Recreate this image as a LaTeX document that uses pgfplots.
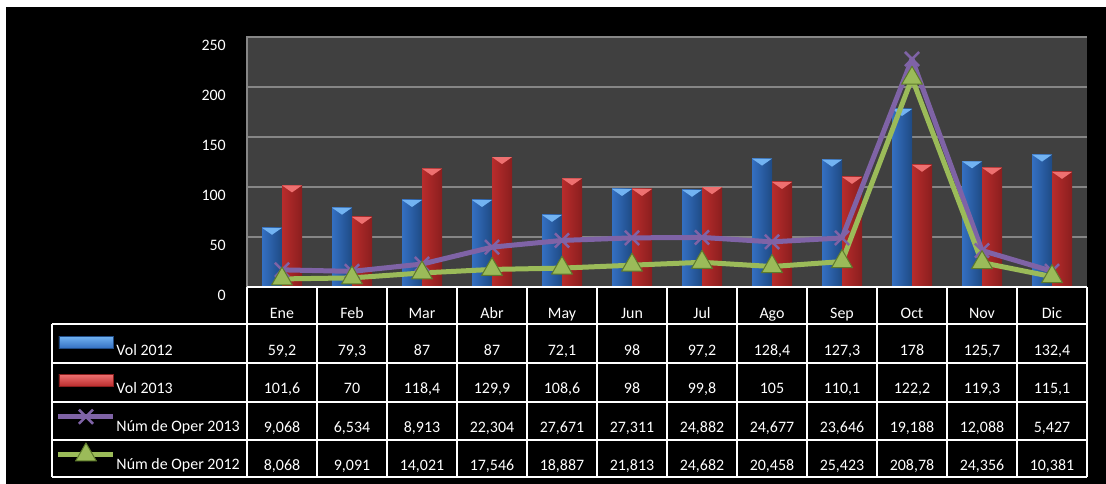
\documentclass[border=0pt]{standalone}
\usepackage{pgfplots}
\pgfplotsset{compat=1.18}
\usepackage{fontspec}
\setmainfont{Carlito}
\definecolor{plotbg}{HTML}{404040}
\definecolor{gridc}{HTML}{868686}
\definecolor{blueL}{HTML}{3470C2}
\definecolor{blueM}{HTML}{4A8EE0}
\definecolor{blueR}{HTML}{1F4A84}
\definecolor{blueT}{HTML}{72B3F2}
\definecolor{redL}{HTML}{B82C2C}
\definecolor{redM}{HTML}{DE4646}
\definecolor{redR}{HTML}{8A1E1E}
\definecolor{redT}{HTML}{EE7070}
\definecolor{purp}{HTML}{7F63A6}
\definecolor{grn}{HTML}{9BBB59}
\definecolor{grnD}{HTML}{5E7A2C}
\newcommand{\fs}{\fontsize{16}{19}\selectfont}
\pgfplotsset{
  lineleg/.style={legend image code/.code={\draw[mark repeat=2, mark phase=2, ##1] plot coordinates {(0bp,15bp) (27.5bp,15bp) (55bp,15bp)};}},
  bevel/.style={/tikz/path picture={%
    \pgfsetfillcolor{#1}%
    \pgfpathmoveto{\pgfpointanchor{path picture bounding box}{north west}}%
    \pgfpathlineto{\pgfpointanchor{path picture bounding box}{north east}}%
    \pgfpathlineto{\pgfpointadd{\pgfpointanchor{path picture bounding box}{north}}{\pgfpoint{0pt}{-7bp}}}%
    \pgfpathclose\pgfusepath{fill}}},
  blueBar/.style={ybar, bar width=20bp, bar shift=-10bp, draw=none, left color=blueL, middle color=blueM, right color=blueR, bevel=blueT},
  redBar/.style={ybar, bar width=20bp, bar shift=10bp, draw=none, left color=redL, middle color=redM, right color=redR, bevel=redT},
}
\newcommand{\Bbar}[2]{\addplot[blueBar, forget plot] coordinates {(#1,#2)};}
\newcommand{\Rbar}[2]{\addplot[redBar, forget plot] coordinates {(#1,#2)};}
\begin{document}
\begin{tikzpicture}[x=1bp,y=1bp]
\useasboundingbox (0,0) rectangle (1106,484);
\fill[white] (0,0) rectangle (1106,484);
\fill[black] (6,0) rectangle (1106,477);
\begin{axis}[
  at={(247bp,197bp)}, anchor=south west,
  scale only axis, width=840bp, height=250bp,
  xmin=-0.5, xmax=11.5, ymin=0, ymax=250,
  axis background/.style={fill=plotbg},
  axis line style={draw=none},
  tick style={draw=none},
  ytick={0,50,...,250},
  ymajorgrids, grid style={gridc, line width=1.6bp},
  xtick={0,...,11},
  xticklabels={Ene,Feb,Mar,Abr,May,Jun,Jul,Ago,Sep,Oct,Nov,Dic},
  tick label style={font=\fs, text=white},
  /pgf/number format/assume math mode=true,
  xticklabel style={anchor=base, yshift=-32bp},
  yticklabel style={anchor=east, inner sep=0pt, xshift=-21bp, yshift=-8bp},
  legend style={at={(axis description cs:-0.2274,-0.148)}, anchor=north west,
    draw=none, fill=none, inner sep=0pt, outer sep=0pt, row sep=0pt, column sep=0.5bp,
    nodes={text=white, font=\fs, inner sep=0pt, text height=31.25bp, text depth=7bp, anchor=base west}},
  clip=false,
]
% Vol 2012
\Bbar{0}{59.2}\Bbar{1}{79.3}\Bbar{2}{87}\Bbar{3}{87}\Bbar{4}{72.1}\Bbar{5}{98}
\Bbar{6}{97.2}\Bbar{7}{128.4}\Bbar{8}{127.3}\Bbar{9}{178}\Bbar{10}{125.7}\Bbar{11}{132.4}
% Vol 2013
\Rbar{0}{101.6}\Rbar{1}{70}\Rbar{2}{118.4}\Rbar{3}{129.9}\Rbar{4}{108.6}\Rbar{5}{98}
\Rbar{6}{99.8}\Rbar{7}{105}\Rbar{8}{110.1}\Rbar{9}{122.2}\Rbar{10}{119.3}\Rbar{11}{115.1}
\addlegendimage{legend image code/.code={\path[top color=blueT, bottom color=blueL, draw=blueR, line width=0.8bp] (0.5bp,7bp) rectangle (54.5bp,19bp);}}
\addlegendentry{Vol 2012}
\addlegendimage{legend image code/.code={\path[top color=redT, bottom color=redL, draw=redR, line width=0.8bp] (0.5bp,7bp) rectangle (54.5bp,19bp);}}
\addlegendentry{Vol 2013}
% stacked line: Oper 2013 plotted on top of Oper 2012 (values in thousands)
\addplot[purp, line width=5bp, line join=round, mark=x, mark size=10bp, mark options={line width=2.5bp, solid}, lineleg]
  coordinates {(0,17.136) (1,15.625) (2,22.934) (3,39.850) (4,46.558) (5,49.124) (6,49.564) (7,45.135) (8,49.069) (9,227.968) (10,36.444) (11,15.808)};
\addlegendentry{Núm de Oper 2013}
\addplot[grn, line width=5bp, line join=round, mark=triangle*, mark size=12bp, mark options={fill=grn, draw=grnD, line width=1bp, solid}, lineleg]
  coordinates {(0,8.068) (1,9.091) (2,14.021) (3,17.546) (4,18.887) (5,21.813) (6,24.682) (7,20.458) (8,25.423) (9,208.78) (10,24.356) (11,10.381)};
\addlegendentry{Núm de Oper 2012}
\end{axis}
\draw[gridc, line width=1.6bp] (247,197) -- (247,448);
\begin{scope}[white, line width=1.6bp]
\draw (247,197) -- (1087,197);
\foreach \y in {160,121,82,44,7} \draw (52,\y) -- (1087,\y);
\foreach \k in {0,...,12} \draw (247+70*\k,7) -- (247+70*\k,197);
\draw (52,7) -- (52,160);
\end{scope}
\tikzset{cell/.style={anchor=base, text=white, font=\fs, inner sep=0pt}}
\foreach \v [count=\i from 0] in {{59,2},{79,3},{87},{87},{72,1},{98},{97,2},{128,4},{127,3},{178},{125,7},{132,4}}
  \node[cell] at (282+70*\i,128) {\v};
\foreach \v [count=\i from 0] in {{101,6},{70},{118,4},{129,9},{108,6},{98},{99,8},{105},{110,1},{122,2},{119,3},{115,1}}
  \node[cell] at (282+70*\i,90) {\v};
\foreach \v [count=\i from 0] in {{9,068},{6,534},{8,913},{22,304},{27,671},{27,311},{24,882},{24,677},{23,646},{19,188},{12,088},{5,427}}
  \node[cell] at (282+70*\i,51) {\v};
\foreach \v [count=\i from 0] in {{8,068},{9,091},{14,021},{17,546},{18,887},{21,813},{24,682},{20,458},{25,423},{208,78},{24,356},{10,381}}
  \node[cell] at (282+70*\i,13) {\v};
\end{tikzpicture}
\end{document}
